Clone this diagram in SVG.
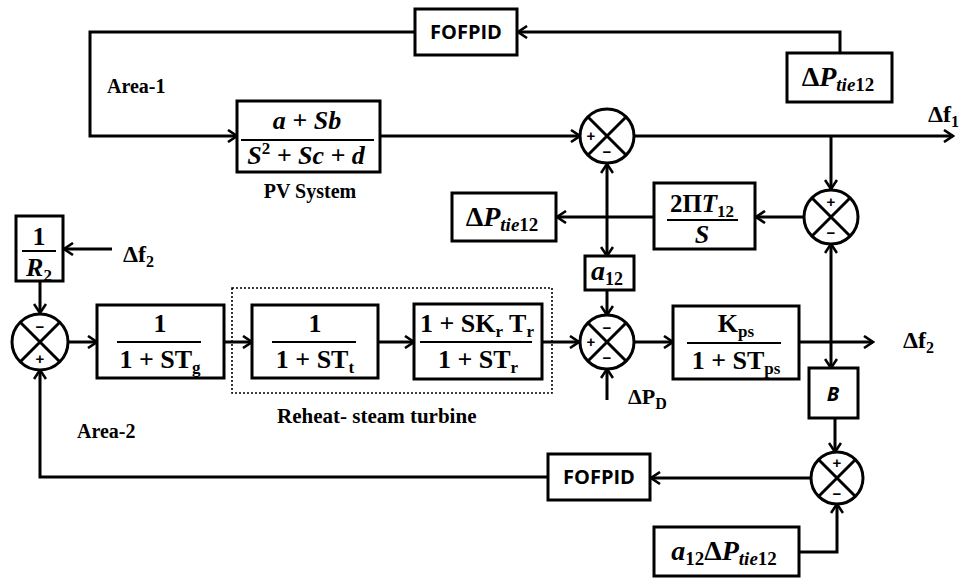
<svg xmlns="http://www.w3.org/2000/svg" width="961" height="583" viewBox="0 0 961 583">
<style>
.bx{fill:#fff;stroke:#000;stroke-width:3}
.ln{fill:none;stroke:#000;stroke-width:3}
.ar{fill:none;stroke:#000;stroke-width:3;marker-end:url(#ah)}
.fr{stroke:#000;stroke-width:2}
.sj{fill:#fff;stroke:#000;stroke-width:3}
.m{font-family:"Liberation Serif","DejaVu Serif",serif;font-weight:bold;font-size:26px;text-anchor:middle;fill:#000}
.i{font-style:italic}
.sb{font-size:17px}
.st{text-anchor:start}
.lb{font-family:"Liberation Serif",serif;font-weight:bold;font-size:20px;fill:#000}
.cs{font-family:"Open Sans","Liberation Sans",sans-serif;font-weight:bold;font-size:20px;text-anchor:middle;fill:#000}
.sg{font-family:"Liberation Sans",sans-serif;font-weight:bold;font-size:15px;text-anchor:middle;fill:#000}
</style>
<defs>
<marker id="ah" viewBox="0 0 14 14" refX="12" refY="7" markerWidth="14" markerHeight="14" markerUnits="userSpaceOnUse" orient="auto">
<path d="M3,1 L12,7 L3,13" fill="none" stroke="#000" stroke-width="2.6"/>
</marker>
</defs>
<rect width="961" height="583" fill="#fff"/>

<g id="connectors">
<path class="ar" d="M840,53 V32 H518"/>
<path class="ar" d="M415,32 H90 V136 H237"/>
<path class="ar" d="M380,136 H580"/>
<path class="ar" d="M634,136 H953"/>
<path class="ar" d="M831,136 V189"/>
<path class="ar" d="M804,217 H756"/>
<path class="ar" d="M654,217 H557"/>
<path class="ar" d="M607,217 V164"/>
<path class="ar" d="M607,217 V256"/>
<path class="ar" d="M607,290 V315"/>
<path class="ar" d="M607,400 V369"/>
<path class="ar" d="M634,342 H673"/>
<path class="ar" d="M799,342 H873"/>
<path class="ar" d="M831,342 V244"/>
<path class="ar" d="M831,342 V368"/>
<path class="ar" d="M835,418 V452"/>
<path class="ar" d="M810,478 H651"/>
<path class="ar" d="M548,477 H40 V370"/>
<path class="ar" d="M799,552 H837 V504"/>
<path class="ar" d="M112,249 H64"/>
<path class="ar" d="M40,281 V313"/>
<path class="ar" d="M68,342 H97"/>
<path class="ar" d="M224,342 H252"/>
<path class="ar" d="M378,342 H414"/>
<path class="ar" d="M542,342 H579"/>
</g>

<g id="fofpid1">
<rect class="bx" x="415" y="9" width="102" height="46"/>
<text class="cs" x="466" y="39">FOFPID</text>
</g>

<g id="area1"><text class="lb" x="107" y="93">Area-1</text></g>

<g id="pv">
<rect class="bx" x="237" y="101" width="143" height="71"/>
<text class="m i" x="307" y="129">a + Sb</text>
<line class="fr" x1="241" y1="140" x2="374" y2="140"/>
<text class="m i" x="306" y="164">S<tspan font-size="17" font-style="normal" dy="-10">2</tspan><tspan dy="10"> + Sc + d</tspan></text>
<text class="lb" x="310" y="198" text-anchor="middle">PV System</text>
</g>

<g id="dptie_tr">
<rect class="bx" x="787" y="53" width="105" height="49"/>
<text class="m" x="838" y="86" style="font-size:28px">Δ<tspan font-style="italic">P</tspan><tspan font-style="italic" dy="5" font-size="19">tie</tspan><tspan font-size="19">12</tspan></text>
</g>

<g id="sum1">
<circle class="sj" cx="607" cy="136" r="27"/>
<path class="ln" d="M588,117 L626,155 M626,117 L588,155"/>
<text class="sg" x="591" y="141">+</text>
<text class="sg" x="607" y="157">−</text>
</g>

<g id="df1"><text class="m st" x="928" y="122" style="font-size:24px">Δf<tspan font-size="16" dy="5">1</tspan></text></g>

<g id="sum2">
<circle class="sj" cx="831" cy="217" r="27"/>
<path class="ln" d="M812,198 L850,236 M850,198 L812,236"/>
<text class="sg" x="831" y="207">+</text>
<text class="sg" x="831" y="238">−</text>
</g>

<g id="tie">
<rect class="bx" x="654" y="183" width="101" height="66"/>
<text class="m" x="702" y="212" style="font-size:25px">2Π<tspan class="i">T</tspan><tspan class="sb" dy="5">12</tspan></text>
<line class="fr" x1="667" y1="220" x2="738" y2="220"/>
<text class="m i" x="702" y="243">S</text>
</g>

<g id="dptie_l">
<rect class="bx" x="452" y="193" width="104" height="48"/>
<text class="m" x="502" y="226" style="font-size:28px">Δ<tspan font-style="italic">P</tspan><tspan font-style="italic" dy="5" font-size="19">tie</tspan><tspan font-size="19">12</tspan></text>
</g>

<g id="a12">
<rect class="bx" x="585" y="256" width="49" height="34"/>
<text class="m" x="607" y="280" style="font-size:28px"><tspan font-style="italic">a</tspan><tspan font-size="18" dy="5">12</tspan></text>
</g>

<g id="sum3">
<circle class="sj" cx="607" cy="342" r="27"/>
<path class="ln" d="M588,323 L626,361 M626,323 L588,361"/>
<text class="sg" x="607" y="333">−</text>
<text class="sg" x="591" y="347">+</text>
<text class="sg" x="607" y="363">−</text>
</g>

<g id="dpd"><text class="m st" x="628" y="404" style="font-size:22px">ΔP<tspan font-size="16" dy="5">D</tspan></text></g>

<g id="kps">
<rect class="bx" x="673" y="306" width="126" height="73"/>
<text class="m" x="736" y="332">K<tspan class="sb" dy="5">ps</tspan></text>
<line class="fr" x1="687" y1="343" x2="781" y2="343"/>
<text class="m" x="736" y="369">1 + ST<tspan class="sb" dy="5">ps</tspan></text>
</g>

<g id="df2r"><text class="m st" x="903" y="348" style="font-size:24px">Δf<tspan font-size="16" dy="5">2</tspan></text></g>

<g id="bbox">
<rect class="bx" x="809" y="368" width="49" height="50"/>
<text class="cs i" x="833" y="401">B</text>
</g>

<g id="sum4">
<circle class="sj" cx="837" cy="478" r="26"/>
<path class="ln" d="M819,460 L855,496 M855,460 L819,496"/>
<text class="sg" x="837" y="468">+</text>
<text class="sg" x="837" y="499">−</text>
</g>

<g id="fofpid2">
<rect class="bx" x="548" y="454" width="102" height="46"/>
<text class="cs" x="599" y="484">FOFPID</text>
</g>

<g id="a12dptie">
<rect class="bx" x="654" y="527" width="145" height="49"/>
<text class="m" x="724" y="560" style="font-size:28px"><tspan font-style="italic">a</tspan><tspan font-size="19" dy="5">12</tspan><tspan dy="-5">Δ</tspan><tspan font-style="italic">P</tspan><tspan font-style="italic" dy="5" font-size="19">tie</tspan><tspan font-size="19">12</tspan></text>
</g>

<g id="r2">
<rect class="bx" x="16" y="216" width="47" height="65"/>
<text class="m" x="39" y="245">1</text>
<line class="fr" x1="22" y1="251" x2="56" y2="251"/>
<text class="m" x="39" y="276"><tspan font-style="italic">R</tspan><tspan class="sb" dy="5">2</tspan></text>
</g>

<g id="df2l"><text class="m st" x="123" y="262" style="font-size:24px">Δf<tspan font-size="16" dy="5">2</tspan></text></g>

<g id="sum0">
<circle class="sj" cx="40" cy="342" r="28"/>
<path class="ln" d="M20,322 L60,362 M60,322 L20,362"/>
<text class="sg" x="40" y="332">−</text>
<text class="sg" x="40" y="364">+</text>
</g>

<g id="gov">
<rect class="bx" x="97" y="305" width="127" height="73"/>
<text class="m" x="160" y="332">1</text>
<line class="fr" x1="117" y1="342" x2="201" y2="342"/>
<text class="m" x="160" y="368">1 + ST<tspan class="sb" dy="5">g</tspan></text>
</g>

<g id="turbine">
<rect x="232" y="288" width="320" height="105" fill="none" stroke="#000" stroke-width="1.6" stroke-dasharray="2,2"/>
<rect class="bx" x="252" y="305" width="126" height="73"/>
<text class="m" x="315" y="332">1</text>
<line class="fr" x1="272" y1="342" x2="356" y2="342"/>
<text class="m" x="315" y="368">1 + ST<tspan class="sb" dy="5">t</tspan></text>
</g>

<g id="reheat">
<rect class="bx" x="414" y="304" width="128" height="75"/>
<text class="m" x="477" y="332">1 + SK<tspan class="sb" dy="5">r</tspan><tspan dy="-5"> T</tspan><tspan class="sb" dy="5">r</tspan></text>
<line class="fr" x1="420" y1="342" x2="532" y2="342"/>
<text class="m" x="478" y="368">1 + ST<tspan class="sb" dy="5">r</tspan></text>
</g>

<g id="labels">
<text class="lb" x="277" y="423" style="font-size:21px">Reheat- steam turbine</text>
<text class="lb" x="77" y="438">Area-2</text>
</g>
</svg>
